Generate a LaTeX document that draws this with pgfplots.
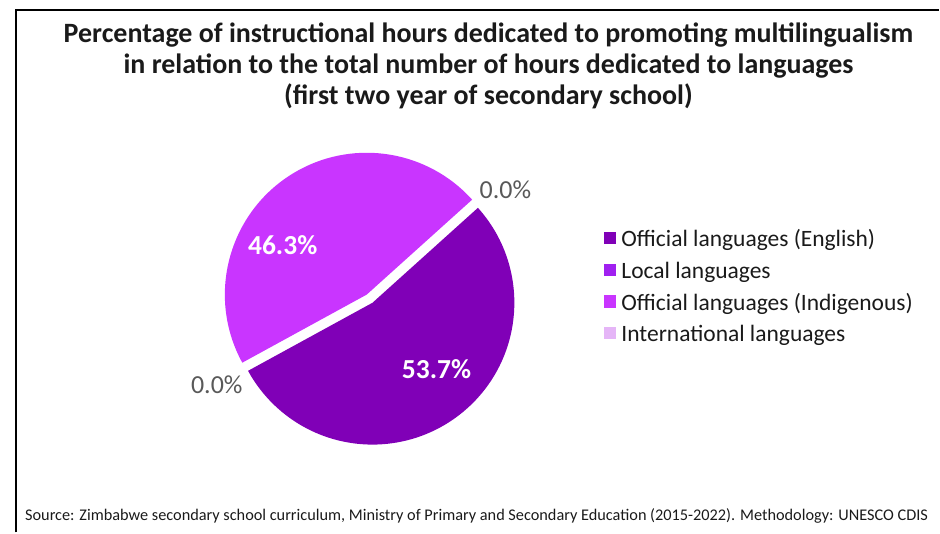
\documentclass[border=0pt]{standalone}
\usepackage{pgfplots}
\usepackage{pgfplotstable}
\pgfplotsset{compat=1.18}
\usepackage{fontspec}
\setmainfont{Carlito}

\definecolor{c1}{RGB}{128,0,183}
\definecolor{c2}{RGB}{160,32,240}
\definecolor{c3}{RGB}{201,53,255}
\definecolor{c4}{RGB}{229,181,247}
\definecolor{titlegray}{RGB}{26,26,26}
\definecolor{labgray}{RGB}{89,89,89}

% slices in Excel order, clockwise from the first-slice angle
\pgfplotstableread{
name          value colour lx  ly
English       53.7  c1     437 163
Local         0     c2     217 148
Indigenous    46.3  c3     283 288
International 0     c4     506 343
}\piedata

\begin{document}
\begin{tikzpicture}
\begin{axis}[
    width=940pt, height=533pt, scale only axis,
    xmin=0, xmax=940, ymin=0, ymax=533,
    hide axis, clip=false,
    /pgf/number format/assume math mode=true,
    legend style={at={(axis cs:604,244)}, anchor=west, draw=none, fill=none,
        font=\fontsize{23.5}{28}\selectfont, text=titlegray,
        nodes={inner sep=0pt, text height=16pt, text depth=5pt},
        /tikz/every odd column/.append style={column sep=6pt},
        row sep=10.7pt, inner sep=0pt},
    legend cell align=left,
    legend image code/.code={\fill[#1] (0pt,-2.5pt) rectangle (11.5pt,9pt);},
]
\path (axis cs:0,0) rectangle (axis cs:940,533);
% frame
\draw[line width=2pt] (axis cs:16,0) -- (axis cs:16,523) -- (axis cs:940,523);

\pgfplotstablegetrowsof{\piedata}
\pgfmathtruncatemacro\lastrow{\pgfplotsretval-1}
\def\cur{42}
\pgfplotsforeachungrouped \i in {0,...,\lastrow}{
    \pgfplotstablegetelem{\i}{value}\of\piedata \let\v\pgfplotsretval
    \pgfplotstablegetelem{\i}{colour}\of\piedata \let\c\pgfplotsretval
    \pgfplotstablegetelem{\i}{lx}\of\piedata \let\lx\pgfplotsretval
    \pgfplotstablegetelem{\i}{ly}\of\piedata \let\ly\pgfplotsretval
    \pgfmathsetmacro\sweep{3.6*\v}
    \pgfmathsetmacro\endang{\cur-\sweep}
    \pgfmathsetmacro\midang{\cur-\sweep/2}
    \pgfmathsetmacro\cx{370+5*cos(\midang)}
    \pgfmathsetmacro\cy{234+5*sin(\midang)}
    \ifdim\v pt>0pt
        \edef\temp{\noexpand\fill[\c] (axis cs:\cx,\cy) -- ++(\cur:142pt)
            arc[start angle=\cur, end angle=\endang, radius=142pt] -- cycle;
            \noexpand\node[text=white, font=\noexpand\fontsize{27.5}{32}\noexpand\selectfont\noexpand\bfseries]
            at (axis cs:\lx,\ly) {\noexpand\pgfmathprintnumber[fixed,fixed zerofill,precision=1]{\v}\noexpand\%};}
    \else
        \edef\temp{\noexpand\node[text=labgray, font=\noexpand\fontsize{26}{30}\noexpand\selectfont]
            at (axis cs:\lx,\ly) {\noexpand\pgfmathprintnumber[fixed,fixed zerofill,precision=1]{\v}\noexpand\%};}
    \fi
    \temp
    \let\cur\endang
}

\addlegendimage{c1}\addlegendentry{Official languages (English)}
\addlegendimage{c2}\addlegendentry{Local languages}
\addlegendimage{c3}\addlegendentry{Official languages (Indigenous)}
\addlegendimage{c4}\addlegendentry{International languages}

% title and source
\node[align=center, text=titlegray, font=\fontsize{28}{31}\selectfont\bfseries]
    at (axis cs:489,467) {Percentage of instructional hours dedicated to promoting multilingualism\\
    in relation to the total number of hours dedicated to languages\\
    (first two year of secondary school)};
\node[anchor=west, text=titlegray, font=\fontsize{16.3}{18}\selectfont, inner sep=0pt]
    at (axis cs:25,17) {Source: Zimbabwe secondary school curriculum, Ministry of Primary and Secondary Education (2015-2022). Methodology: UNESCO CDIS};
\end{axis}
\end{tikzpicture}
\end{document}
